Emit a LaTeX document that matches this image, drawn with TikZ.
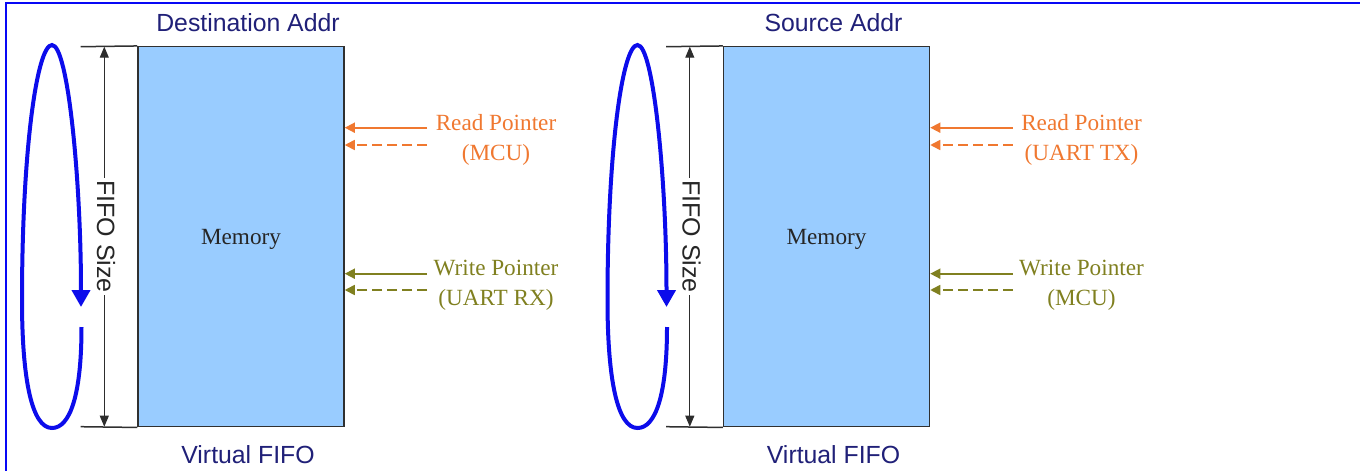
\documentclass[tikz,border=0pt]{standalone}
\usepackage{fontspec}
\setmainfont{Liberation Serif}
\setsansfont{Liberation Sans}
\usetikzlibrary{arrows.meta}

\definecolor{frameblue}{RGB}{8,8,245}
\definecolor{navy}{RGB}{32,32,120}
\definecolor{memfill}{RGB}{153,204,255}
\definecolor{memedge}{RGB}{48,48,48}
\definecolor{loopblue}{RGB}{12,12,235}
\definecolor{rdorange}{RGB}{240,120,48}
\definecolor{wrolive}{RGB}{128,128,32}
\definecolor{dimgrey}{RGB}{45,45,45}

\tikzset{
  memory/.style={draw=memedge, line width=1.5pt, fill=memfill, inner sep=0pt,
    minimum width=206pt, minimum height=380pt, text depth=0pt,
    font=\fontsize{23.2}{28}\selectfont, text=black!85},
  toplabel/.style={font=\sffamily\fontsize{24.8}{30}\selectfont, text=navy, inner sep=0pt},
  ticked/.style={draw=memedge, line width=1.5pt},
  dimline/.style={draw=dimgrey, line width=1pt,
    {Triangle[length=11pt,width=9pt]}-{Triangle[length=11pt,width=9pt]}},
  dimlabel/.style={font=\sffamily\fontsize{25}{30}\selectfont, text=black!85,
    fill=white, rotate=-90, inner xsep=2pt, inner ysep=0pt},
  wraparrow/.style={draw=loopblue, line width=4pt,
    -{Triangle[length=17pt,width=18pt]}},
  ptrsolid/.style={line width=1.6pt, -{Triangle[length=10pt,width=10pt]}},
  ptrdashed/.style={ptrsolid, dash pattern=on 10pt off 5pt},
  ptrtext/.style={font=\fontsize{23.2}{30}\selectfont, anchor=base, inner sep=0pt},
}

% One buffer panel: #1 suffix, #2 address label, #3 reader, #4 writer, #5 x offset
\newcommand{\fifopanel}[5]{%
  \begin{scope}[xshift=#5]
    \node[memory] (mem#1) at (241,236.7) {Memory};
    \node[toplabel] (top#1) at (248,23) {#2};
    \node[toplabel] (bot#1) at (248,455) {Virtual FIFO};
    % extent ticks and size dimension
    \coordinate (tt#1) at (80.7,46.7);
    \coordinate (tb#1) at (80.7,426.7);
    \draw[ticked] (tt#1) -- (mem#1.north west);
    \draw[ticked] (tb#1) -- (mem#1.south west);
    \coordinate (dt#1) at (104.3,46.7);
    \coordinate (db#1) at (104.3,426.7);
    \draw[dimline] (dt#1) -- (db#1);
    \node[dimlabel] (fs#1) at (106,236.5) {FIFO Size};
    % wrap-around loop
    \draw[wraparrow] (81.5,327) .. controls (81.5,395) and (70,428) .. (52,428)
      .. controls (32,428) and (22,380) .. (22,300)
      .. controls (22,150) and (37,45) .. (52,45)
      .. controls (68,45) and (81,180) .. (81,307);
    % read pointer
    \coordinate (rs#1) at (427,127.7);
    \coordinate (rd#1) at (427,145);
    \draw[ptrsolid, rdorange] (rs#1) -- (rs#1 -| mem#1.east);
    \draw[ptrdashed, rdorange] (rd#1) -- (rd#1 -| mem#1.east);
    \node[ptrtext, text=rdorange] (rl#1) at (496,130) {Read Pointer};
    \node[ptrtext, text=rdorange] (rm#1) at (496,160) {(#3)};
    % write pointer
    \coordinate (ws#1) at (427,273.7);
    \coordinate (wd#1) at (427,290);
    \draw[ptrsolid, wrolive] (ws#1) -- (ws#1 -| mem#1.east);
    \draw[ptrdashed, wrolive] (wd#1) -- (wd#1 -| mem#1.east);
    \node[ptrtext, text=wrolive] (wl#1) at (496,275) {Write Pointer};
    \node[ptrtext, text=wrolive] (wm#1) at (496,305) {(#4)};
  \end{scope}}

\begin{document}
\begin{tikzpicture}[x=1pt,y=-1pt]
  \useasboundingbox (0,0) rectangle (1360,471);
  \fill[white] (0,0) rectangle (1360,471);
  \draw[frameblue, line width=2pt] (5.8,471) -- (5.8,2.7) -- (1360,2.7);

  \fifopanel{L}{Destination Addr}{MCU}{UART RX}{0pt}
  \fifopanel{R}{Source Addr}{UART TX}{MCU}{585.5pt}
\end{tikzpicture}
\end{document}
